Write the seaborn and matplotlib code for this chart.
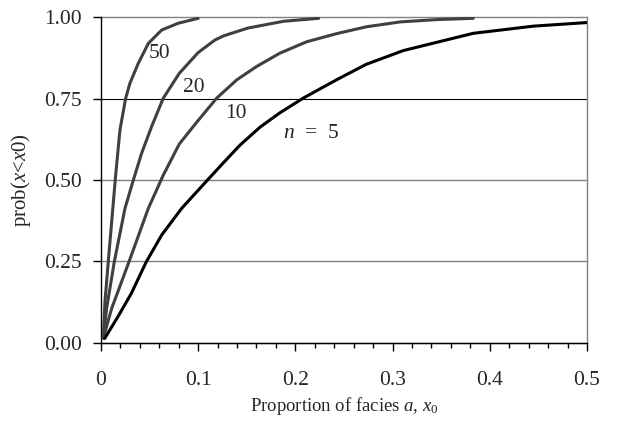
import matplotlib
matplotlib.use("Agg")
import matplotlib.pyplot as plt
import seaborn as sns
import pandas as pd

# values
x_n50 = [0.0024, 0.0041, 0.0075, 0.0151, 0.0195, 0.0254, 0.0298, 0.0384, 0.0487, 0.0624, 0.0796, 0.100]
y_n50 = [0.015, 0.127, 0.249, 0.515, 0.653, 0.751, 0.797, 0.858, 0.919, 0.960, 0.981, 0.996]

x_n20 = [0.0024, 0.0058, 0.0137, 0.0247, 0.0333, 0.0418, 0.0521, 0.0641, 0.0805, 0.100, 0.117,
         0.126, 0.151, 0.188, 0.224]
y_n20 = [0.015, 0.106, 0.249, 0.413, 0.500, 0.582, 0.664, 0.751, 0.827, 0.891, 0.929,
         0.942, 0.966, 0.987, 0.996]

x_n10 = [0.0024, 0.011, 0.0288, 0.0487, 0.0641, 0.0805, 0.0984, 0.119, 0.1396, 0.160, 0.184,
         0.2116, 0.2425, 0.273, 0.308, 0.345, 0.383]
y_n10 = [0.015, 0.106, 0.249, 0.413, 0.515, 0.610, 0.677, 0.751, 0.807, 0.848, 0.889,
         0.924, 0.949, 0.970, 0.985, 0.992, 0.996]

x_n5 = [0.0038, 0.0175, 0.0312, 0.0466, 0.0624, 0.083, 0.1087, 0.126, 0.143, 0.1636,
        0.184, 0.208, 0.225, 0.244, 0.273, 0.311, 0.383, 0.445, 0.500]
y_n5 = [0.014, 0.081, 0.152, 0.249, 0.331, 0.413, 0.497, 0.553, 0.607, 0.662,
        0.706, 0.751, 0.779, 0.810, 0.855, 0.897, 0.950, 0.972, 0.983]

x_ticks = [0, 0.1, 0.2, 0.3, 0.4, 0.5]
x_ticklabels = ["0", "0.1", "0.2", "0.3", "0.4", "0.5"]
y_ticks = [0.0, 0.25, 0.5, 0.75, 1.0]
y_ticklabels = ["0.00", "0.25", "0.50", "0.75", "1.00"]

sns.set_style("white")
plt.rcParams['font.family'] = ['Liberation Serif', 'DejaVu Serif']
plt.rcParams['mathtext.fontset'] = 'custom'
plt.rcParams['mathtext.rm'] = 'Liberation Serif'
plt.rcParams['mathtext.it'] = 'Liberation Serif:italic'

fig = plt.figure(figsize=(6.18, 4.21), dpi=100)
ax = fig.add_axes([0.1634, 0.1853, 0.7864, 0.7743])

curves = [(x_n50, y_n50, "#404040"), (x_n20, y_n20, "#404040"),
          (x_n10, y_n10, "#404040"), (x_n5, y_n5, "black")]
for xs, ys, col in curves:
    df = pd.DataFrame({"x": xs, "y": ys})
    sns.lineplot(data=df, x="x", y="y", ax=ax, color=col, lw=2.2,
                 sort=False, estimator=None, zorder=3)

ax.set_xlim(0, 0.5)
ax.set_ylim(0, 1.0)
ax.set_xticks(x_ticks)
ax.set_xticklabels(x_ticklabels)
ax.set_xticks([i * 0.02 for i in range(26)], minor=True)
ax.set_yticks(y_ticks)
ax.set_yticklabels(y_ticklabels)

ax.yaxis.grid(True, color="#808080", lw=1.0)
ax.set_axisbelow(True)
for gl, v in zip(ax.get_ygridlines(), y_ticks):
    if v == 0.75:
        gl.set_color("black")
        gl.set_linewidth(0.8)
    gl.set_clip_on(False)

ax.spines['top'].set_visible(False)
ax.spines['right'].set_color("#808080")
ax.spines['left'].set_color("black")
ax.spines['bottom'].set_color("black")
for s in ['left', 'bottom', 'right']:
    ax.spines[s].set_linewidth(1.0)

ax.tick_params(axis='x', which='major', direction='out', length=5.5, width=1,
               color='black', labelsize=15.5, pad=15, bottom=True)
ax.tick_params(axis='x', which='minor', direction='out', length=3.5, width=1,
               color='black', bottom=True)
ax.tick_params(axis='y', which='major', direction='out', length=5.5, width=1,
               color='black', labelsize=15.5, pad=8, left=True)

ax.set_xlabel(r"Proportion of facies $a$, $x_{0}$", fontsize=13.5, labelpad=3)
ax.set_ylabel(r"prob($x$<$x0$)", fontsize=15, labelpad=8)

ax.text(0.060, 0.887, "50", fontsize=15.5, ha='center', va='center')
ax.text(0.0957, 0.784, "20", fontsize=15.5, ha='center', va='center')
ax.text(0.139, 0.704, "10", fontsize=15.5, ha='center', va='center')
ax.text(0.187, 0.644, r"$n$  =  5", fontsize=15.5, ha='left', va='center')

fig.savefig("out.png", dpi=100)
